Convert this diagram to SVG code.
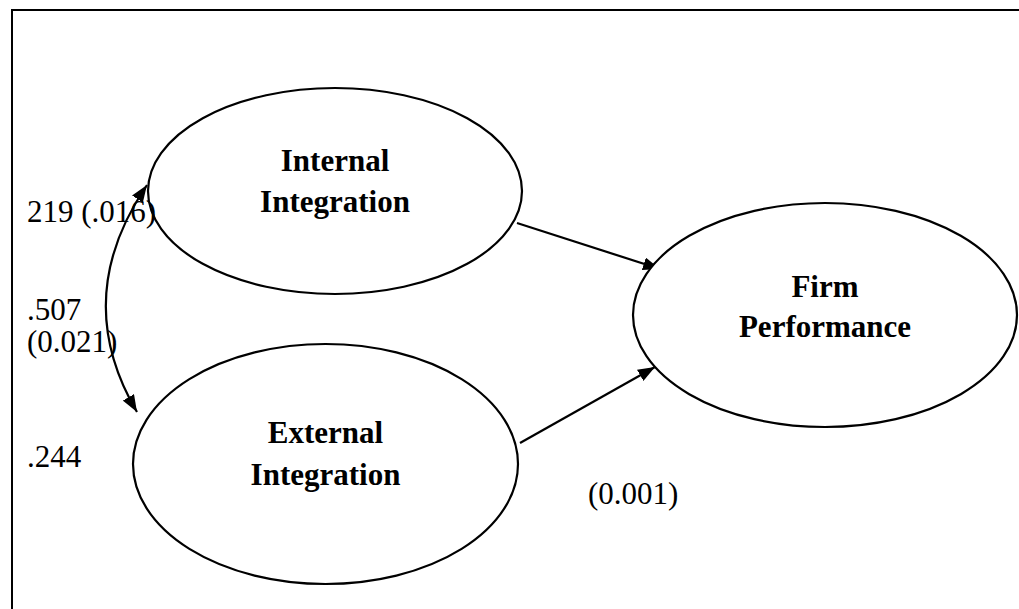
<svg xmlns="http://www.w3.org/2000/svg" width="1019" height="609" viewBox="0 0 1019 609">
<style>
.node ellipse{fill:#fff;stroke:#000;stroke-width:2.2}
.lbl{font-family:"Liberation Serif","Times New Roman",serif;font-size:31px;font-weight:bold;fill:#000;text-anchor:middle}
.num{font-family:"Liberation Serif","Times New Roman",serif;font-size:31px;fill:#000}
.conn{fill:none;stroke:#000;stroke-width:2.2}
</style>
<defs>
<marker id="ah" viewBox="0 0 17 13" refX="17" refY="6.5" markerUnits="userSpaceOnUse" markerWidth="17" markerHeight="13" orient="auto-start-reverse">
<path d="M0,0 L17,6.5 L0,13 Z" fill="#000"/>
</marker>
</defs>
<rect width="1019" height="609" fill="#fff"/>
<path d="M12 609 V10 H1019" fill="none" stroke="#000" stroke-width="2"/>
<g id="connectors">
<path class="conn" d="M147 185 Q70 298 137 412" marker-start="url(#ah)" marker-end="url(#ah)"/>
<line class="conn" x1="517" y1="223" x2="660" y2="269" marker-end="url(#ah)"/>
<line class="conn" x1="520" y1="443" x2="655" y2="367" marker-end="url(#ah)"/>
</g>
<g id="internal" class="node">
<ellipse cx="335" cy="191" rx="187" ry="103"/>
<text class="lbl" x="335" y="171">Internal</text>
<text class="lbl" x="335" y="212">Integration</text>
</g>
<g id="external" class="node">
<ellipse cx="325.5" cy="464" rx="192.5" ry="120"/>
<text class="lbl" x="325.5" y="443">External</text>
<text class="lbl" x="325.5" y="485">Integration</text>
</g>
<g id="firm" class="node">
<ellipse cx="825" cy="315" rx="192" ry="112"/>
<text class="lbl" x="825" y="297">Firm</text>
<text class="lbl" x="825" y="337">Performance</text>
</g>
<g id="labels">
<text class="num" x="27" y="222">219 (.016)</text>
<text class="num" x="27" y="320">.507</text>
<text class="num" x="27" y="352">(0.021)</text>
<text class="num" x="27" y="467">.244</text>
<text class="num" x="588" y="504">(0.001)</text>
</g>
</svg>
